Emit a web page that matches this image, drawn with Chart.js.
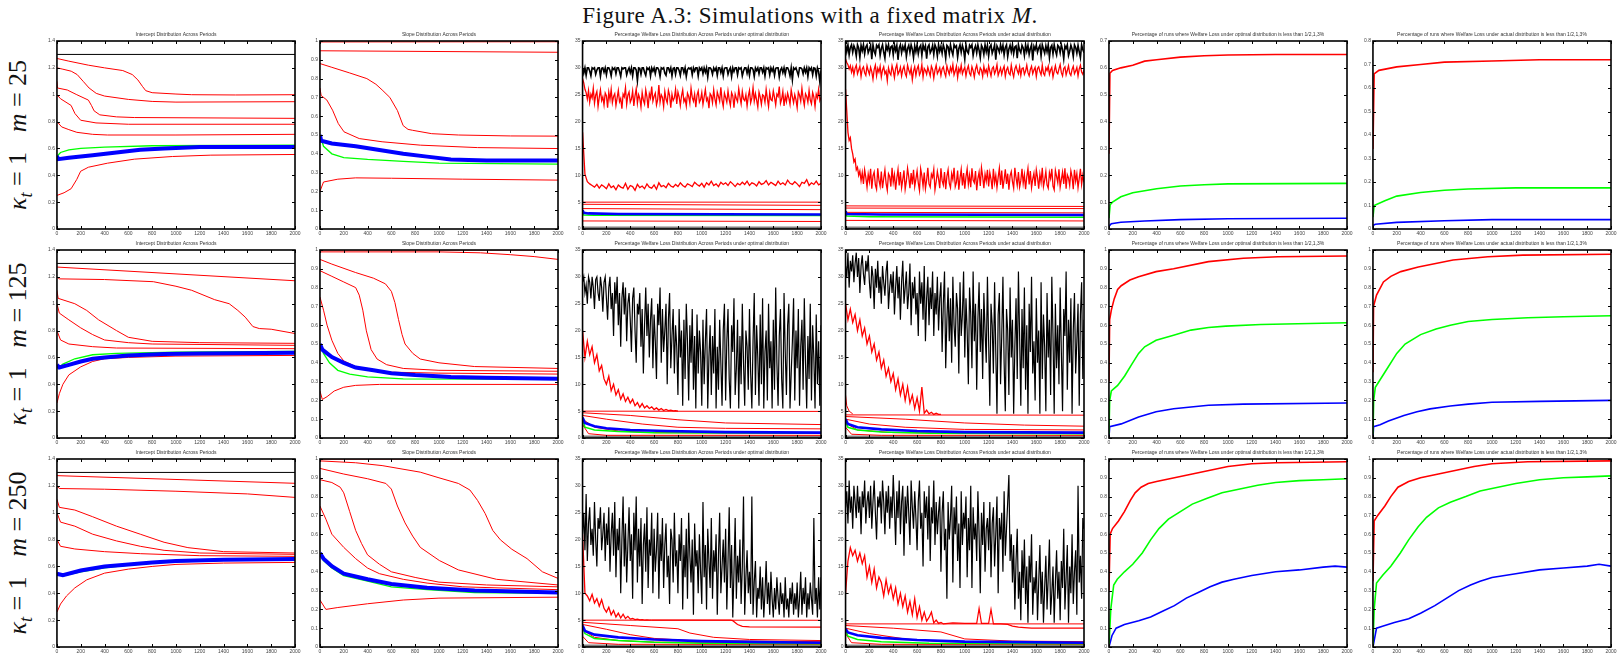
<!DOCTYPE html>
<html>
<head>
<meta charset="utf-8">
<script src="https://cdn.jsdelivr.net/npm/chart.js"></script>
<style>
  body { margin: 0; width: 1617px; height: 655px; position: relative; overflow: hidden; background: #fff; }
  .fig-title { position: absolute; left: 810px; top: 4px; transform: translateX(-50%); font: 23px/23px 'Liberation Serif', serif; letter-spacing: 0.5px; white-space: nowrap; color: #111; }
  .rowlab { position: absolute; left: 20px; transform: translate(-50%, -50%) rotate(-90deg); font: 26px/1 'Liberation Serif', serif; white-space: nowrap; color: #111; }
  .rowlab sub { font-size: 0.7em; vertical-align: -0.3em; font-style: italic; }
  canvas { position: absolute; }
</style>
</head>
<body>
<div class="fig-title">Figure A.3: Simulations with a fixed matrix <i>M</i>.</div>
<div class="rowlab" style="top:135px"><i>κ</i><sub>t</sub> = 1 &ensp;<i>m</i> = 25</div>
<div class="rowlab" style="top:344px"><i>κ</i><sub>t</sub> = 1 &ensp;<i>m</i> = 125</div>
<div class="rowlab" style="top:553px"><i>κ</i><sub>t</sub> = 1 &ensp;<i>m</i> = 250</div>
<script>
/* ---------- sampled periods for the noisy welfare-loss series ---------- */
const P20 = [0,20,40,60,80,100,120,140,160,180,
  200,220,240,260,280,300,320,340,360,380,
  400,420,440,460,480,500,520,540,560,580,
  600,620,640,660,680,700,720,740,760,780,
  800,820,840,860,880,900,920,940,960,980,
  1000,1020,1040,1060,1080,1100,1120,1140,1160,1180,
  1200,1220,1240,1260,1280,1300,1320,1340,1360,1380,
  1400,1420,1440,1460,1480,1500,1520,1540,1560,1580,
  1600,1620,1640,1660,1680,1700,1720,1740,1760,1780,
  1800,1820,1840,1860,1880,1900,1920,1940,1960,1980,
  2000];
const P10 = [0,10,20,30,40,50,60,70,80,90,100,110,120,130,140,150,160,170,180,190,
  200,210,220,230,240,250,260,270,280,290,300,310,320,330,340,350,360,370,380,390,
  400,410,420,430,440,450,460,470,480,490,500,510,520,530,540,550,560,570,580,590,
  600,610,620,630,640,650,660,670,680,690,700,710,720,730,740,750,760,770,780,790,
  800,810,820,830,840,850,860,870,880,890,900,910,920,930,940,950,960,970,980,990,
  1000,1010,1020,1030,1040,1050,1060,1070,1080,1090,1100,1110,1120,1130,1140,1150,1160,1170,1180,1190,
  1200,1210,1220,1230,1240,1250,1260,1270,1280,1290,1300,1310,1320,1330,1340,1350,1360,1370,1380,1390,
  1400,1410,1420,1430,1440,1450,1460,1470,1480,1490,1500,1510,1520,1530,1540,1550,1560,1570,1580,1590,
  1600,1610,1620,1630,1640,1650,1660,1670,1680,1690,1700,1710,1720,1730,1740,1750,1760,1770,1780,1790,
  1800,1810,1820,1830,1840,1850,1860,1870,1880,1890,1900,1910,1920,1930,1940,1950,1960,1970,1980,1990,
  2000];

const TITLES = [
  'Intercept Distribution Across Periods',
  'Slope Distribution Across Periods',
  'Percentage Welfare Loss Distribution Across Periods under optimal distribution',
  'Percentage Welfare Loss Distribution Across Periods under actual distribution',
  'Percentage of runs where Welfare Loss under optimal distribution is less than 1/2,1,3%',
  'Percentage of runs where Welfare Loss under actual distribution is less than 1/2,1,3%'
];

const BASE_LINE = [[0,0.25],[2000,0.25]];

/* ================= m = 25 ================= */
const m25_int_black = [[0,1.3],[2000,1.3]];
const m25_int_r1 = [[0,1.27],[100,1.25],[264,1.22],[400,1.2],[553,1.18],[633,1.15],[680,1.11],[720,1.06],[746,1.03],[800,1.015],[1000,1.005],[1132,1.0],[1500,0.998],[2000,1.0]];
const m25_int_r2 = [[0,1.2],[50,1.19],[120,1.175],[170,1.15],[220,1.1],[270,1.05],[330,1.01],[400,0.99],[600,0.965],[800,0.95],[1000,0.945],[2000,0.948]];
const m25_int_r3 = [[0,1.1],[5,1.05],[87,1.035],[167,1.0],[264,0.96],[290,0.92],[312,0.88],[360,0.85],[500,0.835],[650,0.83],[2000,0.824]];
const m25_int_r4 = [[0,1.0],[30,0.97],[119,0.92],[151,0.86],[199,0.81],[328,0.79],[600,0.78],[2000,0.78]];
const m25_int_r5 = [[0,0.8],[40,0.76],[100,0.74],[167,0.72],[300,0.705],[424,0.7],[1000,0.7],[2000,0.705]];
const m25_int_r6 = [[0,0.25],[60,0.27],[119,0.3],[167,0.37],[199,0.43],[264,0.46],[424,0.49],[650,0.52],[971,0.54],[1293,0.55],[2000,0.555]];
const m25_int_green = [[0,0.51],[10,0.55],[30,0.57],[100,0.59],[200,0.6],[400,0.61],[800,0.62],[2000,0.625]];
const m25_int_blue = [[0,0.545],[10,0.52],[100,0.53],[300,0.55],[500,0.57],[700,0.59],[900,0.6],[1200,0.61],[2000,0.61]];

const m25_slo_r1 = [[0,0.995],[2000,0.996]];
const m25_slo_r2 = [[0,0.948],[2000,0.94]];
const m25_slo_r3 = [[0,0.88],[100,0.86],[250,0.83],[394,0.8],[470,0.77],[522,0.74],[587,0.7],[651,0.63],[699,0.55],[740,0.53],[779,0.525],[939,0.507],[1163,0.5],[1600,0.495],[2000,0.494]];
const m25_slo_r4 = [[0,0.75],[10,0.71],[58,0.686],[106,0.632],[154,0.561],[202,0.517],[330,0.481],[522,0.464],[843,0.446],[1324,0.433],[2000,0.428]];
const m25_slo_r5 = [[0,0.2],[30,0.25],[150,0.265],[300,0.272],[600,0.27],[1200,0.265],[2000,0.26]];
const m25_slo_green = [[0,0.5],[30,0.44],[100,0.4],[200,0.38],[400,0.37],[700,0.36],[1000,0.35],[2000,0.345]];
const m25_slo_blue = [[0,0.5],[10,0.47],[100,0.455],[300,0.44],[500,0.42],[700,0.4],[900,0.385],[1100,0.37],[1400,0.365],[2000,0.365]];

// every 10 periods
const m25_opt_black = [30,29,30,28.6,30,30,29.4,28.5,30,29.8,
  30,28.8,29.6,30,30,28.4,29.9,30,29.2,30,
  28.7,30,30,29.5,28.5,30,29.7,30,28.9,30,
  30,29.3,28.4,30,29.8,30,30,28.7,29.5,30,
  29.1,30,28.5,30,30,29.6,27.6,30,29.9,28.8,
  30,30,29.2,28.6,30,29.7,30,28.5,30,29.4,
  30,28.9,30,30,29.6,28.4,30,29.8,30,29,
  28.6,30,30,29.3,30,28.5,29.9,30,28.8,30,
  30,29.5,28.6,30,30,29.1,30,28.4,29.7,30,
  29.8,30,28.7,30,29.4,30,30,28.5,30,29.6,
  30,28.9,30,29.2,30,28.3,30,30,29.7,28.8,
  30,29.5,30,28.6,30,30,29.1,30,28.5,29.9,
  30,30,28.8,29.6,30,28.4,30,29.3,30,30,
  28.7,30,29.8,30,28.5,29.4,30,30,29,30,
  28.6,30,30,29.7,28.4,30,29.5,30,28.9,30,
  30,29.2,30,28.5,30,29.8,30,28.7,30,29.4,
  30,28.6,29.9,30,30,28.3,29.6,30,29.1,30,
  28.8,30,30,29.5,28.5,30,27.8,30,29.7,30,
  29.3,28.6,30,30,29.8,28.9,30,29.2,30,28.4,
  30,29.6,30,28.7,30,29.9,28.5,30,29.3,27.4,
  29.5];
// every 10 periods
const m25_opt_red1 = [28,27.2,26,25.4,24.2,25.8,23.6,25.1,24.4,26.2,
  23.4,24.9,25.6,22.8,24.5,25.9,23.9,24.6,23.1,25.3,
  24.8,22.6,25.5,24.1,26,23.5,24.7,25.2,23,24.4,
  25.8,23.7,24.3,22.4,25.1,24.6,26.3,23.2,24.9,25.5,
  23.6,24.2,25.7,22.9,24.8,26.1,23.4,25,24.3,22.7,
  25.4,24,23.3,25.9,24.6,22.5,25.2,24.4,26.5,23.8,
  24.7,25.3,23.1,24.1,26.8,23.6,25,24.5,22.8,25.6,
  24.2,23.5,25.8,24.9,22.6,25.1,23.9,24.4,26,23.3,
  25.5,24.6,23,24.8,25.9,23.7,24.3,22.9,25.3,24.7,
  23.4,26.2,24.5,23.8,25.1,22.7,24.9,25.7,23.6,24.1,
  25.4,23.2,24.6,26,23.9,24.4,22.5,25.2,24.8,23.5,
  25.9,24.2,23.1,25.5,24.7,23.8,26.4,24,22.8,25.3,
  24.5,23.6,25.7,24.1,23,25.4,24.8,22.6,25.1,24.3,
  23.7,26.1,24.6,23.3,25.6,24.2,23.9,25,22.9,24.7,
  25.8,23.5,24.4,26.3,23.8,25.2,24,22.7,25.5,24.6,
  23.2,25,24.8,23.6,26,24.3,22.8,25.4,24.1,23.9,
  25.7,24.5,23.1,25.1,24.7,26.5,23.4,24.2,25.6,22.9,
  24.8,23.7,25.3,24.4,23.2,25.9,24.6,23.5,25,24.1,
  22.6,25.5,24.9,23.8,26.2,24.3,23,25.2,24.7,23.6,
  25.8,24,23.3,25.4,24.6,22.8,25.1,24.4,26,23.9,
  24.5];
// every 20 periods
const m25_opt_red2 = [18,10.2,8.8,8.4,8.1,7.8,8.3,7.6,8.2,7.9,
  7.5,8.4,7.7,8,7.3,8.2,7.8,7.6,8.5,7.4,
  8.1,7.9,7.2,8.3,7.7,8,7.5,8.4,7.8,7.6,
  8.2,7.4,8.6,7.9,8.1,7.7,8.5,8,7.8,8.3,
  7.9,8.6,8.1,7.8,8.4,8.2,7.9,8.7,8.3,8,
  8.5,7.8,8.6,8.2,8.9,8.1,8.4,7.9,8.7,8.3,
  8.6,8.1,8.8,8.4,7.9,8.5,8.2,8.7,8.3,8.9,
  8.1,8.6,8.4,8,8.8,8.3,8.5,9,8.2,8.7,
  8.4,8.1,8.9,8.3,8.6,8.2,9.1,8.5,8.3,8.8,
  8.4,7.9,8.7,8.5,9.2,8.1,8.6,8.3,8.9,8.2,
  8.5];
const m25_opt_f1 = [[0,5.0],[2000,5.0]];
const m25_opt_f2 = [[0,4.6],[2000,4.4]];
const m25_opt_f3 = [[0,3.8],[2000,3.6]];
const m25_opt_f4 = [[0,1.5],[2000,1.4]];
const m25_opt_blue = [[0,3.5],[10,3.0],[50,2.9],[300,2.8],[2000,2.7]];
const m25_opt_green = [[0,3.2],[10,2.6],[100,2.55],[2000,2.5]];

// every 10 periods
const m25_act_black = [34.2,33,34.3,32.4,33.8,34.3,32.9,34.1,33.5,32.2,
  34.3,33.7,31.9,34.2,33.2,34.3,32.6,33.9,34.3,32.8,
  33.4,34.2,31.6,34.3,33.1,32.5,34.2,33.8,34.3,32.3,
  33.6,34.3,32.9,31.8,34.2,33.4,34.3,32.7,33.9,34.1,
  32.4,34.3,33.2,34.2,31.5,33.7,34.3,32.8,34,33.3,
  34.3,32.1,33.6,34.2,32.9,34.3,33.5,31.9,34.1,33,
  34.3,32.6,33.8,34.2,32.3,34.3,33.4,34.1,31.7,33.9,
  34.3,32.8,33.3,34.2,32.5,34.3,33.7,32.2,34.3,33.1,
  34,32.7,34.3,33.5,31.8,34.2,33.9,32.6,34.3,33.2,
  32.4,34.3,33.8,34.1,32,33.6,34.3,32.9,34.2,33.4,
  31.6,34.3,33.1,32.7,34.2,33.8,34.3,32.3,33.5,34.1,
  32.8,34.3,33.3,31.9,34.2,33.7,32.5,34.3,33,34.2,
  32.2,33.9,34.3,32.7,33.4,34.3,31.5,34.1,33.6,32.9,
  34.3,33.2,34.2,32.4,33.8,34.3,32.1,33.5,34.2,33,
  34.3,32.6,33.9,34.1,31.8,34.3,33.3,32.8,34.2,33.7,
  32.3,34.3,33.1,34.2,32.5,33.6,34.3,31.4,34,33.4,
  34.3,32.9,33.7,34.2,32.2,34.3,33.5,32.7,34.1,33,
  34.3,31.9,33.8,34.2,32.6,34.3,33.2,32.4,34.2,33.9,
  32.8,34.3,33.4,31.7,34.1,33.6,34.3,32.3,33.1,34.2,
  33.5,32.1,34.3,33.8,32.7,34.2,33,31.9,34.3,33.4,
  32.8];
// every 10 periods
const m25_act_red1 = [31.6,31,30.6,29.8,30.4,29.2,30.1,28.7,29.9,30.5,
  28.9,29.6,30.3,28.4,29.8,30.2,29.1,28.6,30.4,29.5,
  28.8,30.1,29.3,27.9,29.7,30.5,28.5,29.9,29.2,30.3,
  28.3,29.6,30.2,28.9,29.4,27.6,30,29.1,28.7,30.4,
  29.5,28.2,29.9,30.6,28.8,29.3,30.1,28.5,29.7,30.3,
  29,28.4,30.5,29.6,28.9,30,27.8,29.4,30.2,28.6,
  29.8,30.4,28.7,29.2,30.6,28.3,29.9,29.5,28.8,30.1,
  29.3,28.5,30.3,29.7,28.1,29.6,30.5,28.9,29.4,30,
  28.6,29.8,30.2,29.1,28.4,30.4,29.5,28.8,30.1,29.3,
  30.6,28.7,29.4,30.3,28.2,29.9,29.2,30.5,28.9,29.6,
  30.1,28.5,29.7,30.4,29,28.6,30.2,29.5,28.3,29.8,
  30.5,29.2,28.8,30,29.6,28.4,30.3,29.1,29.7,28.7,
  30.4,29.4,28.5,29.9,30.2,28.9,29.5,30.6,28.6,29.3,
  30,28.8,29.7,30.3,28.4,29.6,30.1,29,28.7,30.5,
  29.2,28.3,29.8,30.4,29.5,28.9,30.2,28.6,29.9,30,
  28.8,29.4,30.5,29.1,28.5,29.7,30.3,28.9,29.6,30.1,
  28.4,29.9,30.2,29.3,28.7,30.5,29,28.6,30,29.5,
  30.3,28.8,29.6,30.1,28.3,29.4,30.4,29.2,28.9,29.8,
  30.6,29.1,28.5,29.9,30.2,28.7,29.5,30.4,29,28.6,
  29.7,30.3,28.9,29.4,30.1,28.5,29.8,30.5,29.2,28.8,
  29.6];
// every 10 periods
const m25_act_red2 = [26,22,18,16.5,17,15,14,12.5,13,11,
  11.5,10,10.8,9,10.5,8.4,11,9.6,7.8,10.2,
  8.8,11.2,7.5,9.9,10.6,8.2,7.4,11.3,9.1,8,
  10.7,7.6,9.4,11,8.5,7.2,10.3,9.8,7.9,11.4,
  8.7,10.1,7.3,9.5,11.1,8.1,10.6,7.7,9.2,10.9,
  7.4,8.9,11.3,9.7,7.6,10.4,8.3,11,7.9,9.3,
  10.8,8.6,7.2,11.2,9.9,8,10.5,7.5,9.1,11.4,
  8.4,7.8,10.2,9.6,11.1,7.3,8.8,10.7,9.4,7.6,
  11.3,9,8.2,10.6,7.4,9.8,11,8.5,7.7,10.3,
  9.2,11.4,7.9,8.7,10.9,7.3,9.5,11.1,8.1,10.4,
  7.5,9.7,11.2,8.3,10,7.8,11.3,9.1,8.6,10.8,
  7.2,9.4,10.6,8,11.4,9.8,7.6,10.2,8.9,11,
  7.9,10.5,9.3,7.4,11.2,8.6,10,7.7,9.6,11.3,
  8.2,10.9,7.5,9.2,11.1,8.4,10.3,7.3,9.9,10.7,
  8.8,7.6,11.4,9.5,8.1,10.6,7.8,9,11.2,8.5,
  10.1,7.4,9.7,11.3,8.3,10.8,7.7,9.3,10.4,8,
  11,9.6,7.5,10.2,8.7,11.4,7.9,9.1,10.7,8.2,
  7.6,10.5,9.4,11.2,8,7.3,10.9,9.8,8.6,11.1,
  7.8,9.2,10.6,8.4,11.3,7.5,10.1,9.5,8.1,10.8,
  9.7,7.4,11,8.9,10.3,7.7,9.4,11.2,8.3,10,
  8.7];
const m25_act_f1 = [[0,4.3],[2000,4.2]];
const m25_act_f2 = [[0,3.9],[2000,3.8]];
const m25_act_f3 = [[0,3.1],[2000,3.0]];
const m25_act_f4 = [[0,1.6],[2000,1.5]];
const m25_act_blue = [[0,3.3],[10,2.8],[300,2.7],[2000,2.6]];
const m25_act_green = [[0,3.0],[10,2.4],[200,2.3],[2000,2.2]];

const m25_popt_red = [[0,0.28],[8,0.58],[30,0.59],[100,0.6],[200,0.61],[300,0.625],[400,0.63],[600,0.64],[800,0.645],[1000,0.648],[1400,0.65],[2000,0.65]];
const m25_popt_green = [[0,0.04],[10,0.09],[30,0.1],[100,0.12],[200,0.135],[400,0.15],[600,0.16],[800,0.165],[1000,0.168],[2000,0.17]];
const m25_popt_blue = [[0,0.01],[20,0.02],[100,0.025],[300,0.03],[600,0.035],[1000,0.038],[2000,0.04]];
const m25_pact_red = [[0,0.34],[10,0.66],[50,0.675],[200,0.69],[400,0.7],[600,0.71],[1000,0.715],[1400,0.72],[2000,0.72]];
const m25_pact_green = [[0,0.05],[10,0.1],[100,0.12],[200,0.14],[400,0.155],[600,0.165],[800,0.17],[1200,0.175],[2000,0.175]];
const m25_pact_blue = [[0,0.015],[20,0.02],[200,0.028],[600,0.035],[1000,0.04],[2000,0.04]];

/* ================= m = 125 ================= */
const m125_int_black = [[0,1.3],[2000,1.3]];
const m125_int_r1 = [[0,1.273],[2000,1.171]];
const m125_int_r2 = [[0,1.2],[20,1.185],[400,1.18],[810,1.164],[1000,1.13],[1132,1.1],[1325,1.03],[1447,1.0],[1520,0.95],[1582,0.9],[1646,0.83],[1700,0.815],[1800,0.81],[2000,0.778]];
const m125_int_r3 = [[0,1.1],[10,1.04],[150,1.0],[250,0.95],[350,0.88],[500,0.8],[600,0.75],[800,0.72],[1200,0.71],[2000,0.705]];
const m125_int_r4 = [[0,1.0],[20,0.93],[100,0.88],[200,0.82],[300,0.77],[400,0.73],[600,0.71],[800,0.7],[2000,0.69]];
const m125_int_r5 = [[0,0.8],[30,0.73],[100,0.7],[300,0.68],[500,0.67],[2000,0.665]];
const m125_int_r6 = [[0,0.26],[20,0.33],[50,0.4],[100,0.47],[200,0.53],[300,0.57],[400,0.59],[600,0.6],[1000,0.61],[2000,0.615]];
const m125_int_green = [[0,0.53],[10,0.52],[50,0.55],[150,0.59],[300,0.62],[500,0.63],[1000,0.64],[2000,0.645]];
const m125_int_blue = [[0,0.545],[20,0.525],[100,0.545],[200,0.57],[300,0.59],[400,0.6],[600,0.615],[900,0.625],[1200,0.63],[2000,0.635]];

const m125_slo_r1 = [[0,1.0],[2000,1.0]];
const m125_slo_r2 = [[0,0.99],[1000,0.99],[1350,0.985],[1600,0.975],[1800,0.965],[2000,0.95]];
const m125_slo_r3 = [[0,0.95],[100,0.925],[300,0.88],[450,0.85],[550,0.82],[600,0.78],[630,0.72],[660,0.63],[690,0.55],[715,0.5],[780,0.45],[843,0.42],[1000,0.4],[1300,0.38],[2000,0.37]];
const m125_slo_r4 = [[0,0.89],[100,0.86],[200,0.83],[300,0.8],[330,0.76],[360,0.68],[390,0.57],[430,0.47],[480,0.42],[560,0.39],[700,0.37],[1000,0.36],[2000,0.355]];
const m125_slo_r5 = [[0,0.75],[30,0.68],[60,0.6],[100,0.52],[150,0.45],[200,0.41],[300,0.38],[400,0.36],[600,0.35],[1000,0.345],[2000,0.34]];
const m125_slo_r6 = [[0,0.25],[20,0.205],[60,0.22],[120,0.25],[200,0.27],[300,0.28],[500,0.285],[2000,0.285]];
const m125_slo_green = [[0,0.5],[30,0.45],[80,0.4],[150,0.36],[250,0.34],[400,0.325],[700,0.315],[2000,0.312]];
const m125_slo_blue = [[0,0.5],[20,0.47],[100,0.43],[200,0.4],[300,0.375],[450,0.36],[600,0.345],[800,0.335],[1100,0.325],[1400,0.32],[2000,0.315]];

// every 10 periods
const m125_opt_black = [29,30,27,28.5,25,30,29,26,30,28,
  24,29.5,30,27,25.5,30,28,23.5,29,30,
  26,22,28,30,24,27,19,29,25,30,
  21,27,17,26,29,23,28,18,25,27,
  22,16,26,28,20,14,25,23,27,17,
  24,12,21,28,19,25,15,22,26,13,
  23,18,11,25,21,28,14,24,16,20,
  25,10,22,27,13,19,24,12,21,17,
  8,24,15,20,6,22,11,25,18,7,
  21,14,24,9,19,5.5,23,12,20,16,
  6,22,10,18,24,5.5,15,21,8,19,
  12,24,5.5,17,9,22,14,6,20,25,
  7,18,24,11,5.5,21,16,26,8,13,
  22,5.5,19,10,25,14,6,20,17,9,
  24,12,5.5,18,27,8,21,15,6,23,
  10,26,5.5,16,20,7,25,13,18,5.5,
  22,9,28,14,6,19,24,11,5.5,27,
  16,8,21,25,5.5,12,18,26,7,20,
  13,24,6,17,22,9,26,14,5.5,19,
  11,25,7,21,15,5.5,23,10,18,6,
  21];
// every 20 periods (0-800)
const m125_opt_red = [20,15,18,15.5,17,14,15.5,12.5,13.5,11,
  10,11.5,8.8,10,8,9,7.2,8.2,6.8,7.6,
  6.5,7.2,6,6.6,5.7,6.4,5.6,6,5.5,5.8,
  5.3,5.6,5.2,5.5,5.1,5.3,5.1,5.2,5.05,5.1,
  5];
const m125_opt_f1 = [[0,5.0],[2000,4.95]];
const m125_opt_f2 = [[0,4.7],[400,4.2],[800,3.4],[1200,2.8],[2000,2.5]];
const m125_opt_f3 = [[0,4.2],[200,3.5],[500,2.6],[800,2.0],[1200,1.8],[2000,1.7]];
const m125_opt_f4 = [[0,3.5],[100,2.0],[300,1.3],[600,1.0],[2000,0.9]];
const m125_opt_f5 = [[0,2.5],[50,0.8],[200,0.5],[2000,0.5]];
const m125_opt_blue = [[0,3.8],[20,2.8],[100,2.2],[200,1.8],[400,1.5],[700,1.3],[1200,1.1],[2000,1.0]];
const m125_opt_green = [[0,3.5],[20,2.0],[100,1.5],[300,1.2],[600,1.0],[2000,0.9]];

// every 10 periods
const m125_act_black = [32,30,34.5,28,33,31,34,29,32.5,34.5,
  30,33.5,27,32,34,30.5,28.5,33,31,34,
  29,26,32,30,24,31.5,28,33,27,30,
  25,32,29,26.5,31,33,24,28,30.5,27,
  31,23,28,32,26,30,22,29,33,25,
  28,31,24,27,32.5,21,29,26,30,23,
  27,19,31,25,29,22,32,18,26,30,
  21,28,24,31,19,27,23,30,20,26,
  29,16,25,31,13,22,28,18,26,14,
  30,21,17,27,24,12,29,19,23,31,
  15,26,20,10,28,23,13,31,18,25,
  9,22,29,16,24,11,27,20,14,30,
  18,6,25,21,12,29,16,4.5,23,27,
  10,19,30,14,5,24,20,8,28,15,
  22,4.5,17,26,11,31,19,6,24,13,
  28,9,21,4.5,25,16,30,12,18,7,
  26,14,20,4.5,29,11,23,17,5,27,
  15,22,8,30,19,4.5,25,13,21,10,
  28,16,5,24,19,31,9,22,14,26,
  4.5,20,27,12,18,25,6,23,29,11,
  22];
// every 20 periods (0-800)
const m125_act_red = [25,22,24,21.5,23,20,22,19,20.5,17.5,
  19,16,17.5,14.5,16,13,14.5,11.5,13,10.5,
  12,9,11,8,10,7,9.5,6.5,8,5.5,
  7.5,5,9.5,4.6,5.2,4.5,4.8,4.4,4.6,4.4,
  4.4];
const m125_act_spike = [[0,8],[10,6],[30,5],[60,4.5]];
const m125_act_f1 = [[0,4.3],[2000,4.25]];
const m125_act_f2 = [[0,4.0],[500,3.5],[1000,2.8],[1500,2.4],[2000,2.2]];
const m125_act_f3 = [[0,3.5],[200,2.6],[500,2.0],[1000,1.6],[2000,1.5]];
const m125_act_f4 = [[0,2.8],[100,1.5],[400,1.0],[2000,0.8]];
const m125_act_f5 = [[0,2.0],[50,0.7],[300,0.5],[2000,0.5]];
const m125_act_blue = [[0,3.5],[20,2.6],[100,2.0],[300,1.6],[600,1.3],[1000,1.1],[2000,1.0]];
const m125_act_green = [[0,3.2],[20,2.0],[100,1.5],[300,1.1],[700,0.9],[2000,0.8]];

const m125_popt_red = [[0,0.3],[6,0.63],[20,0.68],[44,0.74],[73,0.79],[103,0.81],[176,0.84],[249,0.858],[396,0.885],[543,0.9],[836,0.938],[1129,0.956],[1422,0.964],[2000,0.968]];
const m125_popt_green = [[0,0.02],[6,0.2],[20,0.25],[73,0.28],[132,0.33],[190,0.39],[249,0.45],[300,0.485],[396,0.52],[543,0.547],[689,0.574],[836,0.588],[982,0.595],[1276,0.604],[2000,0.613]];
const m125_popt_blue = [[0,0.0],[6,0.06],[103,0.075],[249,0.112],[396,0.14],[543,0.156],[689,0.165],[836,0.174],[1129,0.18],[2000,0.186]];
const m125_pact_red = [[0,0.35],[5,0.7],[30,0.76],[88,0.83],[150,0.86],[234,0.885],[381,0.91],[673,0.947],[966,0.964],[1259,0.973],[2000,0.977]];
const m125_pact_green = [[0,0.02],[6,0.2],[20,0.27],[100,0.35],[200,0.45],[270,0.5],[400,0.55],[530,0.58],[650,0.6],[800,0.62],[1000,0.63],[1300,0.64],[1600,0.645],[2000,0.65]];
const m125_pact_blue = [[0,0.0],[5,0.06],[60,0.07],[130,0.09],[260,0.12],[370,0.14],[480,0.155],[650,0.17],[800,0.18],[1000,0.19],[1400,0.195],[2000,0.2]];

/* ================= m = 250 ================= */
const m250_int_black = [[0,1.3],[2000,1.3]];
const m250_int_r1 = [[0,1.276],[2000,1.219]];
const m250_int_r2 = [[0,1.2],[20,1.18],[400,1.175],[1000,1.16],[1600,1.14],[2000,1.114]];
const m250_int_r3 = [[0,1.1],[20,1.04],[150,1.02],[300,0.97],[500,0.9],[700,0.84],[900,0.78],[1100,0.74],[1400,0.71],[2000,0.7]];
const m250_int_r4 = [[0,1.0],[30,0.93],[150,0.9],[300,0.84],[500,0.79],[700,0.75],[900,0.72],[1200,0.7],[2000,0.69]];
const m250_int_r5 = [[0,0.8],[30,0.75],[150,0.73],[400,0.71],[700,0.695],[1200,0.68],[2000,0.675]];
const m250_int_r6 = [[0,0.26],[30,0.32],[80,0.38],[150,0.44],[250,0.5],[400,0.55],[600,0.58],[800,0.6],[1000,0.615],[1400,0.625],[2000,0.63]];
const m250_int_green = [[0,0.54],[50,0.53],[200,0.56],[400,0.59],[600,0.61],[800,0.625],[1000,0.635],[1400,0.645],[2000,0.65]];
const m250_int_blue = [[0,0.545],[50,0.535],[200,0.57],[400,0.6],[600,0.615],[800,0.63],[1000,0.64],[1400,0.65],[2000,0.655]];

const m250_slo_r1 = [[0,1.0],[2000,1.0]];
const m250_slo_r2 = [[0,0.99],[300,0.98],[522,0.965],[843,0.93],[1000,0.9],[1163,0.87],[1260,0.835],[1324,0.78],[1388,0.71],[1452,0.62],[1516,0.57],[1612,0.52],[1740,0.47],[1869,0.4],[2000,0.365]];
const m250_slo_r3 = [[0,0.95],[200,0.92],[400,0.895],[554,0.87],[600,0.84],[651,0.75],[715,0.66],[779,0.59],[843,0.53],[1003,0.46],[1163,0.41],[1484,0.36],[2000,0.33]];
const m250_slo_r4 = [[0,0.89],[100,0.875],[170,0.85],[200,0.82],[250,0.72],[300,0.62],[350,0.55],[400,0.49],[500,0.44],[600,0.4],[800,0.37],[1000,0.345],[1400,0.33],[2000,0.32]];
const m250_slo_r5 = [[0,0.75],[50,0.68],[100,0.6],[200,0.53],[300,0.47],[400,0.42],[500,0.39],[700,0.36],[900,0.34],[1200,0.32],[2000,0.305]];
const m250_slo_r6 = [[0,0.25],[50,0.2],[150,0.21],[400,0.23],[700,0.25],[1000,0.26],[2000,0.265]];
const m250_slo_green = [[0,0.5],[30,0.46],[100,0.42],[200,0.38],[400,0.35],[600,0.32],[900,0.305],[1300,0.29],[2000,0.285]];
const m250_slo_blue = [[0,0.5],[30,0.47],[100,0.43],[200,0.39],[400,0.36],[600,0.335],[900,0.315],[1300,0.3],[2000,0.29]];

// every 10 periods
const m250_opt_black = [21,25,18,28.5,16,23,26,19,22,17,
  27,20,15,24,22,26,18,21,25,16,
  23,19,26,14,21,25,17,27,13,22,
  18,24,10,20,28,15,23,12,19,26,
  16,21,9,25,18,28,12,22,15,24,
  8,19,23,14,26,11,20,17,25,10,
  22,14,18,25,9,21,16,24,11,19,
  23,13,17,8,22,20,12,25,15,18,
  10,21,16,24,7,19,13,22,9,25,
  17,12,20,6,23,15,18,10,21,14,
  8,27,13,19,7,22,16,11,24,9,
  18,14,21,6,17,25,10,15,20,12,
  22,7,16,26,11,19,5.5,14,24,9,
  17,12,20,8,15,28,6,13,18,10,
  14,8,28,6,12,16,5.5,11,9,15,
  7,13,5.5,10,16,8,12,6,14,9,
  5.5,11,7,13,9,6,12,8,10,5.5,
  13,7,9,5.5,11,8,12,6,10,7,
  12,5.5,9,14,6,11,8,13,5.5,10,
  7,12,9,6,24,8,11,5.5,13,7,
  13];
// every 20 periods (0-580) then a smooth tail
const m250_opt_red = [21,10,9.5,8.6,9.8,8.2,9,7.6,8.8,7.2,
  6.5,7.4,6,6.8,5.6,6.3,5.4,6.1,5.3,5.7,
  5.2,5.3,5.1,5.2,5.05,5.1,5,5.05,5,5];
const m250_opt_red_tail = [[580,5],[1240,5],[1260,4.9],[1300,4.2],[1340,3.85],[1400,3.75],[2000,3.7]];
const m250_opt_f1 = [[0,5.0],[2000,4.98]];
const m250_opt_f2 = [[0,4.6],[400,4.0],[800,3.4],[900,2.6],[1100,1.8],[1400,1.4],[2000,1.2]];
const m250_opt_f3 = [[0,4.2],[200,3.3],[400,2.3],[600,1.6],[900,1.2],[2000,1.0]];
const m250_opt_f4 = [[0,3.2],[100,1.8],[300,1.2],[600,0.9],[2000,0.8]];
const m250_opt_f5 = [[0,2.0],[50,0.8],[300,0.5],[2000,0.5]];
const m250_opt_blue = [[0,4.0],[20,3.0],[100,2.3],[300,1.8],[600,1.4],[1000,1.1],[1500,0.9],[2000,0.8]];
const m250_opt_green = [[0,3.8],[20,2.5],[100,1.6],[300,1.2],[600,0.9],[1000,0.7],[2000,0.6]];

// every 10 periods
const m250_act_black = [26,29,23,31,25,28,22,30,27,24,
  30,25,28,21,29,26,31,23,27,29,
  24,30,22,27,31,25,20,28,26,29,
  23,31,27,21,29,25,30,22,28,24,
  32,26,19,29,24,31,21,27,30,17,
  28,23,30,25,19,31,26,22,29,24,
  18,27,31,22,25,15,29,24,28,20,
  30,16,26,23,31,19,27,21,25,28,
  14,25,29,18,22,9,27,20,24,30,
  12,26,21,28,16,23,11,29,19,25,
  22,28,13,24,18,30,11,26,20,23,
  16,29,21,10,25,19,27,14,22,24,
  18,27,13,23,26,15,21,28,10,24,
  20,25,14,29,17,22,27,32,16,21,
  12,19,7,16,22,9,14,5,18,11,
  20,8,15,4.5,17,12,21,6,13,10,
  16,5,12,19,8,14,4.5,11,17,7,
  13,20,6,10,15,4.5,12,18,9,14,
  5,16,11,22,7,13,19,4.5,15,10,
  21,8,14,18,6,30,12,17,9,24,
  22];
// every 20 periods (0-800) then a tail
const m250_act_red = [10,16,18.5,17,18,16,17.5,15.5,17,13,
  15,12,14.5,11,13,12,9.5,12.5,10,11.5,
  9,11,8,10,7.5,9.5,6.5,8.5,6,9,
  5.5,7.5,5,6.5,4.8,5.5,6.5,4.5,5,4.4,
  4.6];
const m250_act_red_tail = [[800,4.6],[820,4.3],[900,4.5],[1000,4.4],[1100,4.4],[1120,7.2],[1140,4.4],[1200,4.4],[1220,7],[1240,4.3],[1300,4.3],[1360,4.2],[1400,3.9],[1450,3.7],[1500,3.6],[1560,3.5],[2000,3.5]];
const m250_act_f1 = [[0,4.3],[2000,4.3]];
const m250_act_f2 = [[0,4.0],[400,3.5],[800,2.8],[1000,1.5],[1400,1.1],[2000,1.0]];
const m250_act_f3 = [[0,3.5],[200,2.5],[500,1.5],[800,1.0],[2000,0.8]];
const m250_act_f4 = [[0,2.5],[50,0.8],[300,0.5],[2000,0.5]];
const m250_act_blue = [[0,3.4],[20,2.7],[100,2.2],[300,1.7],[600,1.3],[1000,1.0],[2000,0.8]];
const m250_act_green = [[0,3.2],[20,2.0],[100,1.4],[300,1.0],[700,0.7],[2000,0.6]];

const m250_popt_red = [[0,0.3],[10,0.6],[30,0.63],[80,0.67],[130,0.72],[180,0.78],[220,0.82],[270,0.85],[330,0.87],[400,0.88],[550,0.9],[700,0.92],[850,0.94],[1000,0.96],[1200,0.975],[1400,0.98],[2000,0.985]];
const m250_popt_green = [[0,0],[15,0.2],[40,0.33],[70,0.36],[130,0.4],[200,0.44],[280,0.5],[350,0.57],[420,0.63],[500,0.68],[600,0.72],[700,0.76],[820,0.79],[950,0.82],[1100,0.84],[1250,0.86],[1400,0.875],[1600,0.885],[1800,0.89],[2000,0.895]];
const m250_popt_blue = [[0,0],[25,0.06],[60,0.1],[130,0.12],[250,0.14],[350,0.16],[450,0.19],[550,0.22],[650,0.26],[750,0.29],[850,0.32],[950,0.345],[1050,0.36],[1200,0.38],[1400,0.4],[1600,0.41],[1800,0.425],[1900,0.43],[2000,0.425]];
const m250_pact_red = [[0,0.35],[10,0.67],[40,0.7],[100,0.75],[150,0.8],[210,0.85],[300,0.88],[400,0.9],[550,0.92],[700,0.94],[850,0.96],[1000,0.975],[1300,0.985],[2000,0.99]];
const m250_pact_green = [[0,0],[10,0.2],[30,0.34],[80,0.38],[150,0.43],[230,0.5],[300,0.57],[380,0.64],[450,0.69],[550,0.74],[650,0.77],[780,0.8],[900,0.83],[1050,0.85],[1200,0.87],[1400,0.89],[1600,0.9],[1800,0.905],[2000,0.91]];
const m250_pact_blue = [[0,0],[30,0.1],[80,0.11],[180,0.13],[300,0.15],[400,0.18],[520,0.22],[620,0.26],[720,0.3],[820,0.33],[900,0.35],[1000,0.37],[1200,0.39],[1400,0.41],[1600,0.42],[1800,0.43],[1900,0.44],[2000,0.43]];

/* ---------- layout ---------- */
const COL_X = [57, 320, 583, 846, 1109, 1373];
const ROW_Y = [41, 250, 459];
const PW = 238, PH = 188;

const RED = '#ff0000', GREEN = '#00ff00', BLUE = '#0000ff', BLACK = '#000000', GREY = '#808080';

Chart.defaults.font.family = "'Liberation Sans', Arial, sans-serif";

// src is either a list of [period, value] pairs or plain values sampled on `grid`
function ln(src, color, width, grid = P20) {
  const data = typeof src[0] === 'number'
    ? src.map((y, i) => ({ x: grid[i], y }))
    : src.map(([x, y]) => ({ x, y }));
  return { data, borderColor: color, borderWidth: width, pointRadius: 0, tension: 0, fill: false };
}

// matlab style box with inward ticks on all four sides
const boxPlugin = {
  id: 'matlabBox',
  afterDatasetsDraw(chart) {
    const { ctx, chartArea: a, scales: { x, y } } = chart;
    ctx.save();
    ctx.strokeStyle = '#000';
    ctx.lineWidth = 1;
    ctx.beginPath();
    x.ticks.forEach(t => {
      const px = Math.round(x.getPixelForValue(t.value)) + 0.5;
      ctx.moveTo(px, a.bottom); ctx.lineTo(px, a.bottom - 3);
      ctx.moveTo(px, a.top); ctx.lineTo(px, a.top + 3);
    });
    y.ticks.forEach(t => {
      const py = Math.round(y.getPixelForValue(t.value)) + 0.5;
      ctx.moveTo(a.left, py); ctx.lineTo(a.left + 3, py);
      ctx.moveTo(a.right, py); ctx.lineTo(a.right - 3, py);
    });
    ctx.stroke();
    ctx.lineWidth = 1.6;
    ctx.strokeRect(a.left, a.top, a.right - a.left, a.bottom - a.top);
    ctx.restore();
  }
};

const NB = 1.2;   // width of noisy black lines
const NR = 1.3;   // width of noisy red lines

const panels = [
  // ---- m = 25 ----
  { max: 1.4, step: 0.2, lines: [
    ln(m25_int_blue, BLUE, 4), ln(m25_int_green, GREEN, 1.3),
    ln(m25_int_r1, RED, 1), ln(m25_int_r2, RED, 1), ln(m25_int_r3, RED, 1),
    ln(m25_int_r4, RED, 1), ln(m25_int_r5, RED, 1), ln(m25_int_r6, RED, 1),
    ln(m25_int_black, BLACK, 1)] },
  { max: 1, step: 0.1, lines: [
    ln(m25_slo_blue, BLUE, 4), ln(m25_slo_green, GREEN, 1.3),
    ln(m25_slo_r1, RED, 1), ln(m25_slo_r2, RED, 1), ln(m25_slo_r3, RED, 1),
    ln(m25_slo_r4, RED, 1), ln(m25_slo_r5, RED, 1)] },
  { max: 35, step: 5, lines: [
    ln(m25_opt_blue, BLUE, 2.6), ln(m25_opt_green, GREEN, 1.5),
    ln(m25_opt_f1, RED, 1), ln(m25_opt_f2, RED, 1), ln(m25_opt_f3, RED, 1), ln(m25_opt_f4, RED, 1),
    ln(m25_opt_red1, RED, NR, P10), ln(m25_opt_red2, RED, NR),
    ln(m25_opt_black, BLACK, 1.6, P10), ln(BASE_LINE, GREY, 2.5)] },
  { max: 35, step: 5, lines: [
    ln(m25_act_blue, BLUE, 2.6), ln(m25_act_green, GREEN, 1.5),
    ln(m25_act_f1, RED, 1), ln(m25_act_f2, RED, 1), ln(m25_act_f3, RED, 1), ln(m25_act_f4, RED, 1),
    ln(m25_act_red1, RED, NR, P10), ln(m25_act_red2, RED, NR, P10),
    ln(m25_act_black, BLACK, 1.6, P10), ln(BASE_LINE, GREY, 2.5)] },
  { max: 0.7, step: 0.1, lines: [
    ln(m25_popt_red, RED, 1.6), ln(m25_popt_green, GREEN, 1.6), ln(m25_popt_blue, BLUE, 1.6)] },
  { max: 0.8, step: 0.1, lines: [
    ln(m25_pact_red, RED, 1.6), ln(m25_pact_green, GREEN, 1.6), ln(m25_pact_blue, BLUE, 1.6)] },

  // ---- m = 125 ----
  { max: 1.4, step: 0.2, lines: [
    ln(m125_int_blue, BLUE, 4), ln(m125_int_green, GREEN, 1.3),
    ln(m125_int_r1, RED, 1), ln(m125_int_r2, RED, 1), ln(m125_int_r3, RED, 1),
    ln(m125_int_r4, RED, 1), ln(m125_int_r5, RED, 1), ln(m125_int_r6, RED, 1),
    ln(m125_int_black, BLACK, 1)] },
  { max: 1, step: 0.1, lines: [
    ln(m125_slo_blue, BLUE, 4), ln(m125_slo_green, GREEN, 1.3),
    ln(m125_slo_r1, RED, 1), ln(m125_slo_r2, RED, 1), ln(m125_slo_r3, RED, 1),
    ln(m125_slo_r4, RED, 1), ln(m125_slo_r5, RED, 1), ln(m125_slo_r6, RED, 1)] },
  { max: 35, step: 5, lines: [
    ln(m125_opt_blue, BLUE, 2.6), ln(m125_opt_green, GREEN, 1.5),
    ln(m125_opt_f1, RED, 1), ln(m125_opt_f2, RED, 1), ln(m125_opt_f3, RED, 1),
    ln(m125_opt_f4, RED, 1), ln(m125_opt_f5, RED, 1),
    ln(m125_opt_red, RED, NR),
    ln(m125_opt_black, BLACK, NB, P10), ln(BASE_LINE, GREY, 2.5)] },
  { max: 35, step: 5, lines: [
    ln(m125_act_blue, BLUE, 2.6), ln(m125_act_green, GREEN, 1.5),
    ln(m125_act_f1, RED, 1), ln(m125_act_f2, RED, 1), ln(m125_act_f3, RED, 1),
    ln(m125_act_f4, RED, 1), ln(m125_act_f5, RED, 1),
    ln(m125_act_red, RED, NR), ln(m125_act_spike, RED, 1),
    ln(m125_act_black, BLACK, NB, P10), ln(BASE_LINE, GREY, 2.5)] },
  { max: 1, step: 0.1, lines: [
    ln(m125_popt_red, RED, 1.6), ln(m125_popt_green, GREEN, 1.6), ln(m125_popt_blue, BLUE, 1.6)] },
  { max: 1, step: 0.1, lines: [
    ln(m125_pact_red, RED, 1.6), ln(m125_pact_green, GREEN, 1.6), ln(m125_pact_blue, BLUE, 1.6)] },

  // ---- m = 250 ----
  { max: 1.4, step: 0.2, lines: [
    ln(m250_int_blue, BLUE, 4), ln(m250_int_green, GREEN, 1.3),
    ln(m250_int_r1, RED, 1), ln(m250_int_r2, RED, 1), ln(m250_int_r3, RED, 1),
    ln(m250_int_r4, RED, 1), ln(m250_int_r5, RED, 1), ln(m250_int_r6, RED, 1),
    ln(m250_int_black, BLACK, 1)] },
  { max: 1, step: 0.1, lines: [
    ln(m250_slo_blue, BLUE, 4), ln(m250_slo_green, GREEN, 1.3),
    ln(m250_slo_r1, RED, 1), ln(m250_slo_r2, RED, 1), ln(m250_slo_r3, RED, 1),
    ln(m250_slo_r4, RED, 1), ln(m250_slo_r5, RED, 1), ln(m250_slo_r6, RED, 1)] },
  { max: 35, step: 5, lines: [
    ln(m250_opt_blue, BLUE, 2.6), ln(m250_opt_green, GREEN, 1.5),
    ln(m250_opt_f1, RED, 1), ln(m250_opt_f2, RED, 1), ln(m250_opt_f3, RED, 1),
    ln(m250_opt_f4, RED, 1), ln(m250_opt_f5, RED, 1),
    ln(m250_opt_red, RED, NR), ln(m250_opt_red_tail, RED, 1.2),
    ln(m250_opt_black, BLACK, NB, P10), ln(BASE_LINE, GREY, 2.5)] },
  { max: 35, step: 5, lines: [
    ln(m250_act_blue, BLUE, 2.6), ln(m250_act_green, GREEN, 1.5),
    ln(m250_act_f1, RED, 1), ln(m250_act_f2, RED, 1), ln(m250_act_f3, RED, 1), ln(m250_act_f4, RED, 1),
    ln(m250_act_red, RED, NR), ln(m250_act_red_tail, RED, 1.2),
    ln(m250_act_black, BLACK, NB, P10), ln(BASE_LINE, GREY, 2.5)] },
  { max: 1, step: 0.1, lines: [
    ln(m250_popt_red, RED, 1.6), ln(m250_popt_green, GREEN, 1.6), ln(m250_popt_blue, BLUE, 1.6)] },
  { max: 1, step: 0.1, lines: [
    ln(m250_pact_red, RED, 1.6), ln(m250_pact_green, GREEN, 1.6), ln(m250_pact_blue, BLUE, 1.6)] }
];

function makeConfig(p, c) {
  const tickFont = { size: 5 };
  return {
    type: 'line',
    data: { datasets: p.lines },
    options: {
      responsive: false,
      maintainAspectRatio: false,
      animation: false,
      devicePixelRatio: 1,
      layout: { padding: { left: 0, right: 8, top: 0, bottom: 0 } },
      plugins: {
        legend: { display: false },
        tooltip: { enabled: false },
        title: {
          display: true, text: TITLES[c], fullSize: false, color: '#333',
          font: { size: 5, lineHeight: 1, weight: 'normal' },
          padding: { top: 2, bottom: 4 }
        }
      },
      scales: {
        x: {
          type: 'linear', min: 0, max: 2000,
          ticks: { display: true, stepSize: 200, autoSkip: false, maxRotation: 0, padding: 2, color: '#444', font: tickFont,
                   callback: v => String(v) },
          grid: { drawOnChartArea: false, drawTicks: false, color: 'rgba(0,0,0,0)' },
          border: { display: false }
        },
        y: {
          type: 'linear', min: 0, max: p.max,
          ticks: { display: true, stepSize: p.step, autoSkip: false, padding: 2, color: '#444', font: tickFont,
                   callback: v => String(Math.round(v * 100) / 100) },
          grid: { drawOnChartArea: false, drawTicks: false, color: 'rgba(0,0,0,0)' },
          border: { display: false }
        }
      }
    },
    plugins: [boxPlugin]
  };
}

panels.forEach((p, i) => {
  const r = Math.floor(i / 6), c = i % 6;
  const cv = document.createElement('canvas');
  document.body.appendChild(cv);

  // first pass: measure margins around the plot area
  cv.width = 280; cv.height = 220;
  let chart = new Chart(cv, makeConfig(p, c));
  const a = chart.chartArea;
  const w = Math.round(a.left + PW + (280 - a.right));
  const h = Math.round(a.top + PH + (220 - a.bottom));
  chart.destroy();

  // second pass: sized so that the plot area is PW x PH
  cv.width = w; cv.height = h;
  cv.style.width = w + 'px'; cv.style.height = h + 'px';
  chart = new Chart(cv, makeConfig(p, c));
  const b = chart.chartArea;
  cv.style.position = 'absolute';
  cv.style.left = Math.round(COL_X[c] - b.left) + 'px';
  cv.style.top = Math.round(ROW_Y[r] - b.top) + 'px';
});
</script>
</body>
</html>
